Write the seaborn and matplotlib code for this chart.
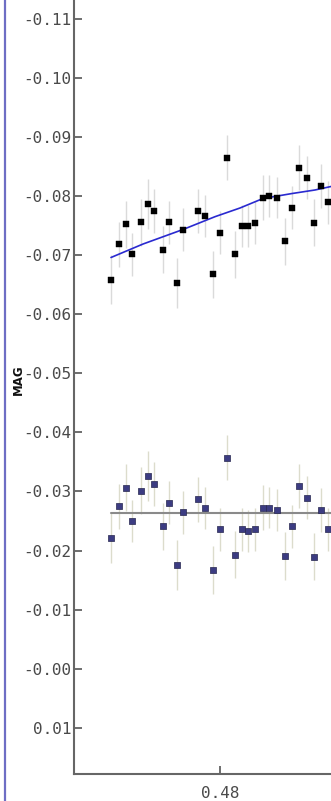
import matplotlib
matplotlib.use("Agg")
import matplotlib.pyplot as plt
from matplotlib.lines import Line2D
import seaborn as sns
import pandas as pd

# ---- data ----
phase = [0.47319, 0.47371, 0.47413, 0.47452, 0.47506, 0.47552, 0.47589, 0.47642,
         0.47683, 0.47729, 0.47771, 0.47864, 0.47906, 0.47954, 0.48000, 0.48042,
         0.48094, 0.48136, 0.48177, 0.48219, 0.48271, 0.48306, 0.48354, 0.48406,
         0.48452, 0.48494, 0.48542, 0.48586, 0.48631, 0.48677]
mag_raw = [-0.06586, -0.07185, -0.07524, -0.07016, -0.07558, -0.07863, -0.07749, -0.07094,
           -0.07558, -0.06530, -0.07432, -0.07749, -0.07664, -0.06677, -0.07382, -0.08652,
           -0.07016, -0.07495, -0.07495, -0.07551, -0.07974, -0.08003, -0.07974, -0.07236,
           -0.07805, -0.08482, -0.08313, -0.07551, -0.08172, -0.07896]
mag_detr = [-0.02217, -0.02749, -0.03064, -0.02500, -0.03013, -0.03262, -0.03127, -0.02410,
            -0.02810, -0.01760, -0.02647, -0.02868, -0.02720, -0.01670, -0.02360, -0.03572,
            -0.01930, -0.02360, -0.02331, -0.02360, -0.02725, -0.02725, -0.02686, -0.01908,
            -0.02410, -0.03093, -0.02895, -0.01894, -0.02686, -0.02360]
mag_err = [0.0042, 0.0038, 0.0040, 0.0036, 0.0040, 0.0042, 0.0038, 0.0040, 0.0036, 0.0042,
           0.0036, 0.0038, 0.0035, 0.0040, 0.0036, 0.0038, 0.0040, 0.0036, 0.0036, 0.0036,
           0.0038, 0.0035, 0.0035, 0.0040, 0.0036, 0.0038, 0.0036, 0.0040, 0.0038, 0.0036]
fit_phase = [0.473188, 0.475188, 0.477688, 0.479688, 0.48125, 0.482688, 0.4845, 0.485938, 0.486938]
fit_mag = [-0.06962, -0.07190, -0.07436, -0.07653, -0.07800, -0.07961, -0.08045, -0.08105, -0.08164]
flat_phase = [0.47319, 0.4875]
flat_mag = [-0.0263, -0.0263]
ytick_vals = [-0.11, -0.10, -0.09, -0.08, -0.07, -0.06, -0.05, -0.04, -0.03, -0.02, -0.01, 0.00, 0.01]
ytick_labels = ["-0.11", "-0.10", "-0.09", "-0.08", "-0.07", "-0.06", "-0.05", "-0.04",
                "-0.03", "-0.02", "-0.01", "-0.00", "0.01"]
xtick_vals = [0.48]
xtick_labels = ["0.48"]

df = pd.DataFrame({"phase": phase, "raw": mag_raw, "detr": mag_detr, "err": mag_err})
fit_df = pd.DataFrame({"phase": fit_phase, "mag": fit_mag})
flat_df = pd.DataFrame({"phase": flat_phase, "mag": flat_mag})

sns.set_style("ticks")
plt.rcParams["font.family"] = ["DejaVu Sans Mono", "DejaVu Sans"]

W, H = 331, 801
fig = plt.figure(figsize=(W / 100, H / 100), dpi=100)
left_px, bottom_px, right_px = 74, 774, 480
ax = fig.add_axes([left_px / W, (H - bottom_px) / H, (right_px - left_px) / W, bottom_px / H])

# error bars
ax.errorbar(df["phase"], df["raw"], yerr=df["err"], fmt="none", ecolor="#dadada",
            elinewidth=1.0, capsize=0, zorder=1)
ax.errorbar(df["phase"], df["detr"], yerr=df["err"], fmt="none", ecolor="#dcdccc",
            elinewidth=1.0, capsize=0, zorder=1)

# fit lines
sns.lineplot(data=fit_df, x="phase", y="mag", ax=ax, color="#2a2ad0", linewidth=1.2,
             sort=True, estimator=None, zorder=2)
sns.lineplot(data=flat_df, x="phase", y="mag", ax=ax, color="#8a8a8a", linewidth=1.5,
             estimator=None, zorder=2)

# points
sns.scatterplot(data=df, x="phase", y="raw", ax=ax, marker="s", s=18, color="#000000",
                edgecolor="#000000", linewidth=0.3, zorder=3)
sns.scatterplot(data=df, x="phase", y="detr", ax=ax, marker="s", s=18, color="#3c3c82",
                edgecolor="#26264f", linewidth=0.5, zorder=3)

ax.set_xlim(0.470875, 0.49625)
ax.set_ylim(0.01784, -0.11322)
ax.set_yticks(ytick_vals)
ax.set_yticklabels(ytick_labels)
ax.set_xticks(xtick_vals)
ax.set_xticklabels(xtick_labels)
ax.tick_params(axis="y", direction="in", length=6, width=1.2, color="#555555",
               labelsize=11.5, labelcolor="#4a4a4a", pad=2)
ax.tick_params(axis="x", direction="in", length=6, width=1.2, color="#555555",
               labelsize=11.5, labelcolor="#4a4a4a", pad=9)
for s in ["top", "right"]:
    ax.spines[s].set_visible(False)
for s in ["left", "bottom"]:
    ax.spines[s].set_color("#666666")
    ax.spines[s].set_linewidth(1.5)
ax.set_xlabel("")
ax.set_ylabel("")

fig.text(18 / W, 1 - 380 / H, "MAG", rotation=90, ha="center", va="center",
         fontsize=8.5, fontweight="bold", color="#111111", family=["DejaVu Sans"])

# left frame border
fig.add_artist(Line2D([5 / W, 5 / W], [0, 1], transform=fig.transFigure,
                      color="#6e6ec4", linewidth=1.6))

fig.savefig("out.png", dpi=100)
